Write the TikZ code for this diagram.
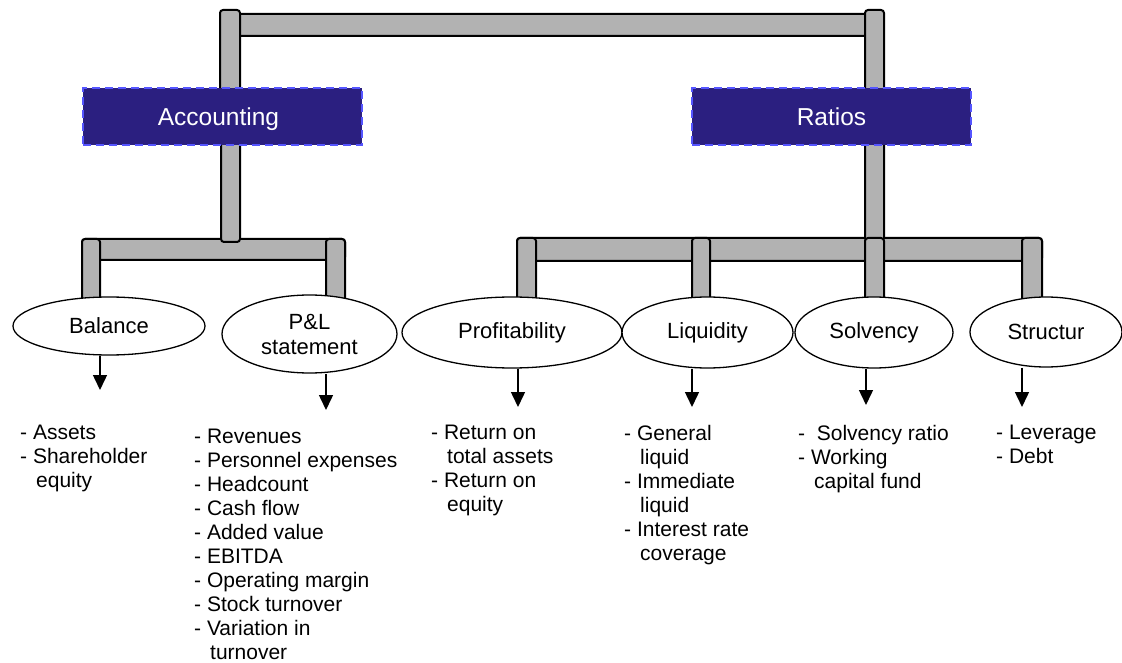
\documentclass[tikz,border=0pt]{standalone}
\usepackage{fontspec}
\setmainfont{Liberation Sans}
\usepackage{xcolor}
\usepackage{tikz}
\usetikzlibrary{arrows.meta,shapes.geometric}
\definecolor{accblue}{RGB}{43,31,128}
\definecolor{accdash}{RGB}{85,85,255}
\definecolor{pipegray}{RGB}{178,178,178}
\newcommand{\ind}{\hspace*{16pt}}
\tikzset{
  catnode/.style = {inner sep=0pt, align=center, text centered},
  cat_b/.style = {catnode, rectangle, fill=accblue, draw=accdash, line width=1.5pt,
    dash pattern=on 8pt off 5pt, text=white, minimum width=279pt,
    minimum height=57pt, text height=17.5pt, text depth=0pt,
    font=\fontsize{24.5}{28}\selectfont},% grande rubrique
  cat_e/.style = {catnode, ellipse, draw=black, fill=white, line width=1.3pt,
    font=\fontsize{22}{25}\selectfont},% sous-rubrique
  cat_l/.style = {inner sep=0pt, anchor=north west, align=left,
    font=\fontsize{21}{24}\selectfont},% liste des indicateurs
  pipe/.style = {draw=black, line width=2pt, fill=pipegray,
    rounded corners=3pt}% tuyau gris
}

\begin{document}
\begin{tikzpicture}[x=1pt,y=-1pt,>={Triangle[length=15pt,width=14pt]}]
\useasboundingbox (0,0) rectangle (1122,663);

% tuyaux du haut
\draw[pipe] (236,14) rectangle (869,36);
\draw[pipe] (220,10) rectangle (240,95);
\draw[pipe] (865,10) rectangle (884,95);

% tuyaux vers les sous-rubriques
\draw[pipe] (82,239) rectangle (345,260);
\draw[pipe] (82,239) rectangle (100,305);
\draw[pipe] (326,239) rectangle (345,305);
\draw[pipe] (221,140) rectangle (240,242);
\draw[pipe] (517,238) rectangle (1042,261);
\draw[pipe] (865,140) rectangle (884,241);
\draw[pipe] (517,238) rectangle (536,305);
\draw[pipe] (692,238) rectangle (710,305);
\draw[pipe] (865,238) rectangle (884,305);
\draw[pipe] (1022,238) rectangle (1042,305);

\node[cat_b] (acc) at (222.5,116.5) {\hspace*{-8pt}Accounting};
\node[cat_b] (rat) at (831.5,116.5) {Ratios};

\node[cat_e, minimum width=192pt, minimum height=58pt] (bal) at (109,326) {Balance};
\node[cat_e, minimum width=175pt, minimum height=78pt] (pl) at (309.5,334) {P\&L\\statement};
\node[cat_e, minimum width=220pt, minimum height=71pt] (prof) at (512,332.5) {Profitability};
\node[cat_e, minimum width=171pt, minimum height=71pt] (liq) at (707.5,332.5) {Liquidity};
\node[cat_e, minimum width=158pt, minimum height=71pt] (solv) at (874,332.5) {Solvency};
\node[cat_e, minimum width=152pt, minimum height=70pt] (str) at (1046,332) {Structur};

% fleches
\coordinate (tBal) at (100,390);
\coordinate (tPl) at (326,410);
\coordinate (tProf) at (518,407);
\coordinate (tLiq) at (692,407);
\coordinate (tSolv) at (866,405);
\coordinate (tStr) at (1022,407);
\draw[->, line width=1.5pt] (bal.south -| tBal) -- (tBal);
\draw[->, line width=1.5pt] (pl.south -| tPl) -- (tPl);
\draw[->, line width=1.5pt] (prof.south -| tProf) -- (tProf);
\draw[->, line width=1.5pt] (liq.south -| tLiq) -- (tLiq);
\draw[->, line width=1.5pt] (solv.south -| tSolv) -- (tSolv);
\draw[->, line width=1.5pt] (str.south -| tStr) -- (tStr);

\node[cat_l] (lBal) at (20,425) {- Assets\\- Shareholder\\\ind equity};
\node[cat_l] (lPl) at (194,429) {- Revenues\\- Personnel expenses\\- Headcount\\- Cash flow\\- Added value\\- EBITDA\\- Operating margin\\- Stock turnover\\- Variation in\\\ind turnover};
\node[cat_l] (lProf) at (431,425) {- Return on\\\ind total assets\\- Return on\\\ind equity};
\node[cat_l] (lLiq) at (624,425) {- General\\\ind liquid\\- Immediate\\\ind liquid\\- Interest rate\\\ind coverage};
\node[cat_l] (lSolv) at (798,425) {-\ \ Solvency ratio\\- Working\\\ind capital fund};
\node[cat_l] (lStr) at (996,425) {- Leverage\\- Debt};
\end{tikzpicture}
\end{document}
